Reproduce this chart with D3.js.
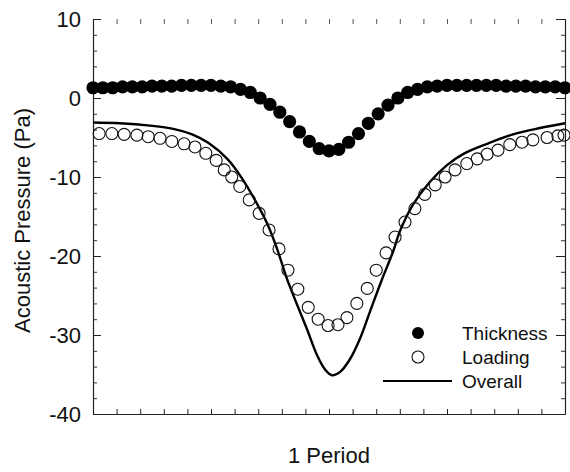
<!DOCTYPE html>
<html>
<head>
<meta charset="utf-8">
<script src="https://cdn.jsdelivr.net/npm/d3@7"></script>
<style>
  body { margin: 0; background: #fff; }
  svg text { font-family: "Liberation Sans", Arial, sans-serif; fill: #111; }
</style>
</head>
<body>
<div id="chart"></div>
<script>
'use strict';

// thickness noise, 49 points evenly over one period
const thicknessPhase = d3.range(49).map((i) => i / 48);
const thicknessValues = [
    1.3, 1.3, 1.3, 1.4, 1.4, 1.4, 1.5, 1.5, 1.5, 1.6,
    1.6, 1.6, 1.6, 1.5, 1.4, 1.1, 0.7, 0.0, -0.8, -1.8,
    -3.0, -4.3, -5.5, -6.4, -6.7, -6.5, -5.6, -4.5, -3.2, -2.0,
    -0.9, 0.0, 0.7, 1.1, 1.4, 1.5, 1.6, 1.6, 1.6, 1.6,
    1.6, 1.6, 1.5, 1.5, 1.5, 1.4, 1.4, 1.4, 1.3,
];

// loading noise (open circles)
const loadingPhase = [
    0.013, 0.040, 0.066, 0.093, 0.117, 0.142, 0.167, 0.193, 0.216, 0.239,
    0.261, 0.278, 0.294, 0.311, 0.331, 0.352, 0.373, 0.394, 0.413, 0.434,
    0.456, 0.477, 0.498, 0.519, 0.538, 0.559, 0.581, 0.600, 0.621, 0.640,
    0.661, 0.682, 0.703, 0.725, 0.746, 0.767, 0.792, 0.814, 0.835, 0.858,
    0.883, 0.909, 0.932, 0.962, 0.985, 0.998,
];
const loadingValues = [
    -4.5, -4.5, -4.6, -4.7, -4.9, -5.1, -5.5, -5.8, -6.2, -7.0,
    -7.9, -9.1, -10.0, -11.2, -12.9, -14.6, -16.7, -19.1, -21.8, -24.2,
    -26.5, -28.0, -28.8, -28.7, -27.8, -26.0, -24.1, -21.8, -19.6, -17.6,
    -15.7, -14.0, -12.2, -11.0, -10.0, -9.1, -8.3, -7.7, -7.1, -6.6,
    -5.9, -5.6, -5.3, -5.0, -4.8, -4.7,
];

// overall (solid line)
const overallPhase = [
    0, 0.057, 0.121, 0.170, 0.210, 0.245, 0.286, 0.316, 0.343, 0.369,
    0.390, 0.411, 0.432, 0.453, 0.475, 0.492, 0.506, 0.523, 0.544, 0.566,
    0.587, 0.612, 0.636, 0.650, 0.678, 0.714, 0.750, 0.784, 0.835, 0.890,
    0.947, 1,
];
const overallValues = [
    -3.1, -3.2, -3.5, -3.9, -4.6, -5.7, -7.8, -10.2, -12.9, -15.9,
    -19.1, -22.9, -26.1, -29.2, -32.6, -34.4, -35.1, -34.7, -33.1, -30.4,
    -27.0, -23.0, -19.4, -16.9, -13.5, -10.6, -8.5, -7.1, -5.8, -4.6,
    -3.8, -3.2,
];

const yTicks = [-40, -30, -20, -10, 0, 10];
const legendLabels = ['Thickness', 'Loading', 'Overall'];
const xTitle = '1 Period';
const yTitle = 'Acoustic Pressure (Pa)';

const width = 570;
const height = 472;
const plot = { left: 93, right: 565, top: 19, bottom: 414 };

const xScale = d3.scaleLinear().domain([0, 1]).range([plot.left, plot.right]);
const yScale = d3.scaleLinear().domain([-40, 10]).range([plot.bottom, plot.top]);

const svg = d3.select('#chart').append('svg')
    .attr('width', width)
    .attr('height', height);

// ---- axes ----
const minorX = d3.range(0, 1.0001, 0.05);
const minorY = d3.range(-40, 10.001, 2);

// bottom
svg.append('g')
    .attr('transform', `translate(0, ${plot.bottom})`)
    .call(d3.axisBottom(xScale).tickValues(minorX).tickSizeInner(-5).tickSizeOuter(0).tickFormat(''))
    .call((g) => g.selectAll('line').attr('stroke', '#222'))
    .select('.domain').attr('stroke', '#222').attr('stroke-width', 1.2);

// top: ticks only, no frame line
svg.append('g')
    .attr('transform', `translate(0, ${plot.top})`)
    .call(d3.axisTop(xScale).tickValues(minorX).tickSizeInner(-5).tickSizeOuter(0).tickFormat(''))
    .call((g) => g.selectAll('line').attr('stroke', '#555'))
    .select('.domain').remove();

// left minor
svg.append('g')
    .attr('transform', `translate(${plot.left}, 0)`)
    .call(d3.axisLeft(yScale).tickValues(minorY).tickSizeInner(-4).tickSizeOuter(0).tickFormat(''))
    .call((g) => g.selectAll('line').attr('stroke', '#333'))
    .select('.domain').attr('stroke', '#222').attr('stroke-width', 1.2);

// left major with labels (plain hyphen like the original)
svg.append('g')
    .attr('transform', `translate(${plot.left}, 0)`)
    .call(d3.axisLeft(yScale).tickValues(yTicks).tickSizeInner(-8).tickSizeOuter(0).tickPadding(12)
        .tickFormat((d) => String(d)))
    .call((g) => g.select('.domain').remove())
    .call((g) => g.selectAll('line').attr('stroke', '#222'))
    .selectAll('text')
    .attr('font-size', 22)
    .attr('font-family', null);

// right
svg.append('g')
    .attr('transform', `translate(${plot.right}, 0)`)
    .call(d3.axisRight(yScale).tickValues(minorY).tickSizeInner(-4).tickSizeOuter(0).tickFormat(''))
    .call((g) => g.selectAll('line').attr('stroke', '#333'))
    .select('.domain').attr('stroke', '#222').attr('stroke-width', 1.2);

svg.append('g')
    .attr('transform', `translate(${plot.right}, 0)`)
    .call(d3.axisRight(yScale).tickValues(yTicks).tickSizeInner(-9).tickSizeOuter(0).tickFormat(''))
    .call((g) => g.select('.domain').remove())
    .selectAll('line').attr('stroke', '#222');

// ---- titles ----
svg.append('text')
    .attr('x', (plot.left + plot.right) / 2)
    .attr('y', 463)
    .attr('text-anchor', 'middle')
    .attr('font-size', 22)
    .text(xTitle);

svg.append('text')
    .attr('transform', `translate(30, ${(plot.top + plot.bottom) / 2 + 4}) rotate(-90)`)
    .attr('text-anchor', 'middle')
    .attr('font-size', 22)
    .text(yTitle);

// ---- series ----
const overallLine = d3.line()
    .x((d, i) => xScale(overallPhase[i]))
    .y((d) => yScale(d))
    .curve(d3.curveCatmullRom.alpha(0.5));

svg.append('path')
    .datum(overallValues)
    .attr('fill', 'none')
    .attr('stroke', '#000')
    .attr('stroke-width', 2.4)
    .attr('d', overallLine);

svg.append('g').selectAll('circle')
    .data(loadingValues)
    .join('circle')
    .attr('cx', (d, i) => xScale(loadingPhase[i]))
    .attr('cy', (d) => yScale(d))
    .attr('r', 6)
    .attr('fill', 'none')
    .attr('stroke', '#111')
    .attr('stroke-width', 1.1);

svg.append('g').selectAll('circle')
    .data(thicknessValues)
    .join('circle')
    .attr('cx', (d, i) => xScale(thicknessPhase[i]))
    .attr('cy', (d) => yScale(d))
    .attr('r', 6.6)
    .attr('fill', '#000');

// ---- legend ----
const legend = svg.append('g').attr('transform', 'translate(418, 333)');
const rowGap = 24;

legend.append('circle').attr('cx', 0).attr('cy', 0).attr('r', 6).attr('fill', '#000');
legend.append('circle').attr('cx', 0).attr('cy', rowGap).attr('r', 6)
    .attr('fill', 'none').attr('stroke', '#111').attr('stroke-width', 1.1);
legend.append('path')
    .attr('d', `M -35 ${rowGap * 2} L 34 ${rowGap * 2}`)
    .attr('stroke', '#000')
    .attr('stroke-width', 2);

legend.selectAll('text.label')
    .data(legendLabels)
    .join('text')
    .attr('class', 'label')
    .attr('x', 44)
    .attr('y', (d, i) => i * rowGap + 7)
    .attr('font-size', 19)
    .text((d) => d);
</script>
</body>
</html>
